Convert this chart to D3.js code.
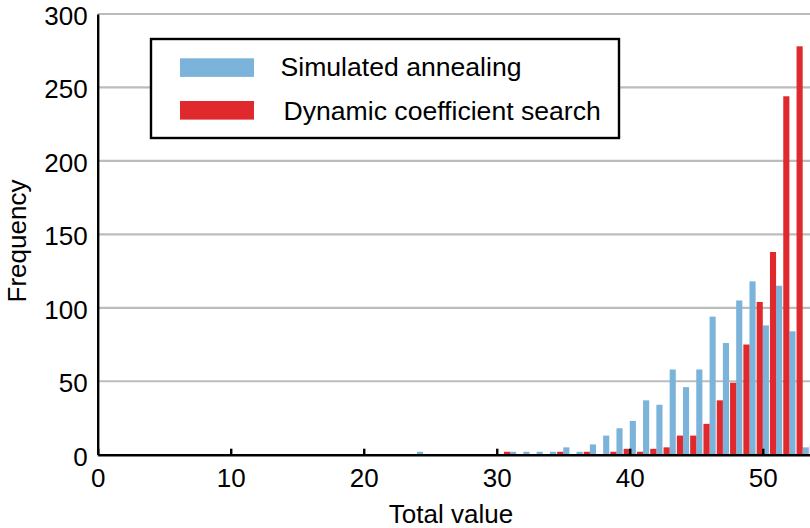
<!DOCTYPE html>
<html>
<head>
<meta charset="utf-8">
<script src="https://cdn.jsdelivr.net/npm/d3@7"></script>
<style>
  body { margin: 0; background: #fff; }
  svg { display: block; font-family: "Liberation Sans", Arial, sans-serif; }
</style>
</head>
<body>
<div id="container"></div>
<script>
/* CONSTANTS AND GLOBALS */
const width = 810,
  height = 528,
  margin = {top: 14, bottom: 73.3, left: 97.7, right: 0};

/* DATA */
const bins = [24, 25, 26, 27, 28, 29, 30, 31, 32, 33, 34, 35, 36, 37, 38, 39,
  40, 41, 42, 43, 44, 45, 46, 47, 48, 49, 50, 51, 52, 53, 54];
const annealing = [2, 0, 0, 0, 0, 0, 0, 2, 2, 2, 2, 5, 2, 7, 13, 18,
  23, 37, 34, 58, 46, 58, 94, 76, 105, 118, 88, 115, 84, 5, 0];
const dynamicSearch = [0, 0, 0, 0, 0, 0, 0, 2, 0, 0, 0, 2, 0, 2, 0, 2,
  4, 2, 4, 5, 13, 13, 21, 37, 49, 75, 104, 138, 244, 278, 7];
const xTicks = [0, 10, 20, 30, 40, 50];
const yTicks = [0, 50, 100, 150, 200, 250, 300];
const seriesNames = ["Simulated annealing", "Dynamic coefficient search"];
const seriesColors = ["#7bb3db", "#e0292c"];

const rows = bins.map((b, i) => ({bin: b, sa: annealing[i], dcs: dynamicSearch[i]}));

// SCALES
const xScale = d3.scaleLinear()
  .domain([0, 53.55])
  .range([margin.left, width - margin.right]);

const yScale = d3.scaleLinear()
  .domain([0, 300])
  .range([height - margin.bottom, margin.top]);

const barW = 0.46;
const fontSize = 26;

// CREATE SVG ELEMENT
const svg = d3.select("#container")
  .append("svg")
  .attr("width", width)
  .attr("height", height)
  .style("background-color", "white");

// GRIDLINES
svg.append("g")
  .selectAll("line")
  .data(yTicks.filter(d => d > 0))
  .join("line")
  .attr("x1", margin.left)
  .attr("x2", width)
  .attr("y1", d => yScale(d))
  .attr("y2", d => yScale(d))
  .attr("stroke", "#bcbcbc")
  .attr("stroke-width", 2.2);

// BARS
svg.append("g")
  .selectAll("rect")
  .data(rows.filter(d => d.sa > 0))
  .join("rect")
  .attr("x", d => xScale(d.bin))
  .attr("width", xScale(barW) - xScale(0))
  .attr("y", d => yScale(d.sa))
  .attr("height", d => yScale(0) - yScale(d.sa))
  .attr("fill", seriesColors[0]);

svg.append("g")
  .selectAll("rect")
  .data(rows.filter(d => d.dcs > 0))
  .join("rect")
  .attr("x", d => xScale(d.bin - barW))
  .attr("width", xScale(barW) - xScale(0))
  .attr("y", d => yScale(d.dcs))
  .attr("height", d => yScale(0) - yScale(d.dcs))
  .attr("fill", seriesColors[1]);

// AXES
const xAxis = d3.axisBottom(xScale)
  .tickValues(xTicks)
  .tickFormat(d3.format("d"))
  .tickSizeInner(-6)
  .tickSizeOuter(0)
  .tickPadding(14);

const xAxisGroup = svg.append("g")
  .attr("class", "xAxis")
  .attr("transform", `translate(0, ${height - margin.bottom})`)
  .call(xAxis);

const yAxis = d3.axisLeft(yScale)
  .tickValues(yTicks)
  .tickSize(0)
  .tickPadding(10);

const yAxisGroup = svg.append("g")
  .attr("class", "yAxis")
  .attr("transform", `translate(${margin.left}, 0)`)
  .call(yAxis);

[xAxisGroup, yAxisGroup].forEach(g => {
  g.select(".domain").attr("stroke", "black").attr("stroke-width", 2.4);
  g.selectAll(".tick line").attr("stroke", "black").attr("stroke-width", 2.4);
  g.selectAll(".tick text").attr("font-size", fontSize).attr("fill", "black")
    .attr("font-family", "Liberation Sans, Arial, sans-serif");
});
yAxisGroup.selectAll(".tick text").attr("dy", "0.4em");

// AXIS TITLES
svg.append("text")
  .attr("x", 451)
  .attr("y", 523)
  .attr("text-anchor", "middle")
  .attr("font-size", fontSize)
  .text("Total value");

svg.append("text")
  .attr("transform", `translate(26, 241) rotate(-90)`)
  .attr("text-anchor", "middle")
  .attr("font-size", fontSize)
  .text("Frequency");

// LEGEND
const legend = svg.append("g");
legend.append("rect")
  .attr("x", 151)
  .attr("y", 39)
  .attr("width", 468)
  .attr("height", 99)
  .attr("fill", "white")
  .attr("stroke", "black")
  .attr("stroke-width", 2.4);

const legendY = [58.3, 101];
const textY = [76, 120];
const textX = [280.5, 283.5];
seriesNames.forEach((name, i) => {
  legend.append("rect")
    .attr("x", 180)
    .attr("y", legendY[i])
    .attr("width", 74)
    .attr("height", 18.6)
    .attr("fill", seriesColors[i]);
  legend.append("text")
    .attr("x", textX[i])
    .attr("y", textY[i])
    .attr("font-size", 26.6)
    .text(name);
});
</script>
</body>
</html>
